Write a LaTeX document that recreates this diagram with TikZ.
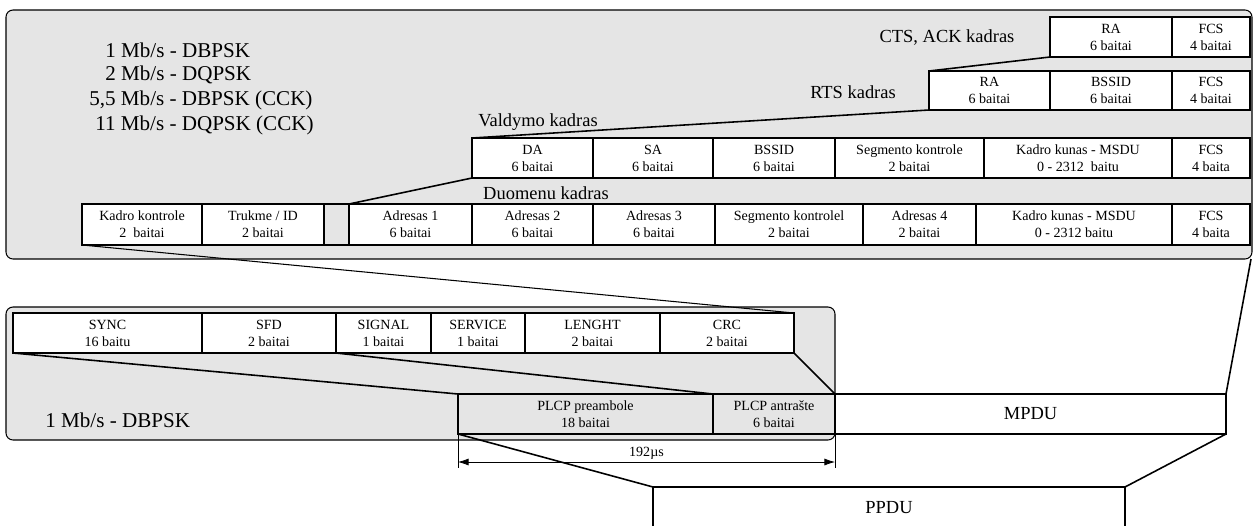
\documentclass[tikz,border=0pt]{standalone}
\usepackage{fontspec}
\setmainfont{Liberation Serif}
\usetikzlibrary{arrows.meta}
\definecolor{panelgray}{gray}{0.9}
\begin{document}
\begin{tikzpicture}[x=0.02cm, y=-0.02cm,
		field/.style={draw, line width=0.9pt, fill=white, inner sep=0pt, outer sep=0pt,
			anchor=north west, align=center, font=\fontsize{8}{9.6}\selectfont},
		fw/.style={minimum width=#1*0.02cm},
		fh/.style={minimum height=#1*0.02cm},
		panel/.style={draw, line width=0.6pt, fill=panelgray, rounded corners=4pt},
		kadras/.style={font=\fontsize{10.5}{12}\selectfont, inner sep=0pt},
		big/.style={font=\fontsize{12}{14}\selectfont, inner sep=0pt, anchor=west},
		link/.style={line width=0.9pt}]
			\useasboundingbox (0,0) rectangle (1254,525);

			% panels
			\draw[panel] (6,10) rectangle (1252,259);
			\draw[panel] (6,307) rectangle (835,440);

			% speeds
			\node[big] (r1) at (105,50) {1 Mb/s - DBPSK};
			\node[big] (r2) at (105,75) {2 Mb/s - DQPSK};
			\node[big] (r3) at (89,100) {5,5 Mb/s - DBPSK (CCK)};
			\node[big] (r4) at (95,125) {11 Mb/s - DQPSK (CCK)};
			\node[big] (r5) at (45,420) {1 Mb/s - DBPSK};

			%% MAC frames %%
			% CTS, ACK
			\node[kadras] (ctslbl) at (947,38) {CTS, ACK kadras};
			\node[field, fw=122, fh=40] (ctsra) at (1050,17) {RA\\6 baitai};
			\node[field, fw=78, fh=40] (ctsfcs) at (1172,17) {FCS\\4 baitai};
			% RTS
			\node[kadras] (rtslbl) at (853,92) {RTS kadras};
			\node[field, fw=121, fh=39] (rtsra) at (929,71) {RA\\6 baitai};
			\node[field, fw=122, fh=39] (rtsbss) at (1050,71) {BSSID\\6 baitai};
			\node[field, fw=78, fh=39] (rtsfcs) at (1172,71) {FCS\\4 baitai};
			% valdymo
			\node[kadras] (vallbl) at (538,122) {Valdymo kadras};
			\node[field, fw=121, fh=40] (da) at (472,138) {DA\\6 baitai};
			\node[field, fw=120, fh=40] (sa) at (593,138) {SA\\6 baitai};
			\node[field, fw=122, fh=40] (valbss) at (713,138) {BSSID\\6 baitai};
			\node[field, fw=149, fh=40] (valseg) at (835,138) {Segmento kontrole\\2 baitai};
			\node[field, fw=188, fh=40] (valmsdu) at (984,138) {Kadro kunas - MSDU\\0 - 2312 \ baitu};
			\node[field, fw=78, fh=40] (valfcs) at (1172,138) {FCS\\4 baita};
			% duomenu
			\node[kadras] (duolbl) at (546,193) {Duomenu kadras};
			\node[field, fw=120, fh=41] (kk) at (82,204) {Kadro kontrole\\2 \ baitai};
			\node[field, fw=122, fh=41] (trukme) at (202,204) {Trukme / ID\\2 baitai};
			\node[field, fw=25, fh=41, fill=panelgray] (gap) at (324,204) {};
			\node[field, fw=123, fh=41] (adr1) at (349,204) {Adresas 1\\6 baitai};
			\node[field, fw=121, fh=41] (adr2) at (472,204) {Adresas 2\\6 baitai};
			\node[field, fw=122, fh=41] (adr3) at (593,204) {Adresas 3\\6 baitai};
			\node[field, fw=148, fh=41] (duoseg) at (715,204) {Segmento kontrolel\\2 baitai};
			\node[field, fw=113, fh=41] (adr4) at (863,204) {Adresas 4\\2 baitai};
			\node[field, fw=196, fh=41] (duomsdu) at (976,204) {Kadro kunas - MSDU\\0 - 2312 baitu};
			\node[field, fw=78, fh=41] (duofcs) at (1172,204) {FCS\\4 baita};

			%% PLCP %%
			\node[field, fw=189, fh=40] (sync) at (13,313) {SYNC\\16 baitu};
			\node[field, fw=134, fh=40] (sfd) at (202,313) {SFD\\2 baitai};
			\node[field, fw=95, fh=40] (signal) at (336,313) {SIGNAL\\1 baitai};
			\node[field, fw=94, fh=40] (service) at (431,313) {SERVICE\\1 baitai};
			\node[field, fw=135, fh=40] (lenght) at (525,313) {LENGHT\\2 baitai};
			\node[field, fw=134, fh=40] (crc) at (660,313) {CRC\\2 baitai};

			\node[field, fw=255, fh=40, fill=panelgray] (pre) at (458,394) {PLCP preambole\\18 baitai};
			\node[field, fw=122, fh=40, fill=panelgray] (antr) at (713,394) {PLCP antrašte\\6 baitai};
			\node[field, fw=391, fh=40, font=\fontsize{10.5}{12}\selectfont] (mpdu) at (835,394) {MPDU};
			\node[field, fw=472, fh=42, font=\fontsize{10.5}{12}\selectfont] (ppdu) at (653,487) {PPDU};

			% connectors
			\coordinate (macend) at (1251,259);
			\draw[link] (ctsra.south west) -- (rtsra.north west);
			\draw[link] (rtsra.south west) -- (da.north west);
			\draw[link] (da.south west) -- (adr1.north west);
			\draw[link, line width=0.6pt] (kk.south west) -- (crc.north east);
			\draw[link] (mpdu.north east) -- (macend);
			\draw[link] (sync.south west) -- (pre.north west);
			\draw[link] (signal.south west) -- (antr.north west);
			\draw[link] (crc.south east) -- (antr.north east);
			\draw[link] (pre.south west) -- (ppdu.north west);
			\draw[link] (mpdu.south east) -- (ppdu.north east);

			% 192 us
			\coordinate (tickl) at (458,468);
			\coordinate (tickr) at (835,468);
			\coordinate (diml) at (458,462);
			\coordinate (dimr) at (835,462);
			\draw[line width=0.4pt] (pre.south west) -- (tickl);
			\draw[line width=0.4pt] (antr.south east) -- (tickr);
			\draw[line width=0.4pt, {Latex[length=6pt,width=4pt]}-{Latex[length=6pt,width=4pt]}] (diml) --
				(dimr) node[midway, above, inner sep=1pt, font=\fontsize{8}{9.6}\selectfont] (dimlbl) {192µs};
\end{tikzpicture}
\end{document}
